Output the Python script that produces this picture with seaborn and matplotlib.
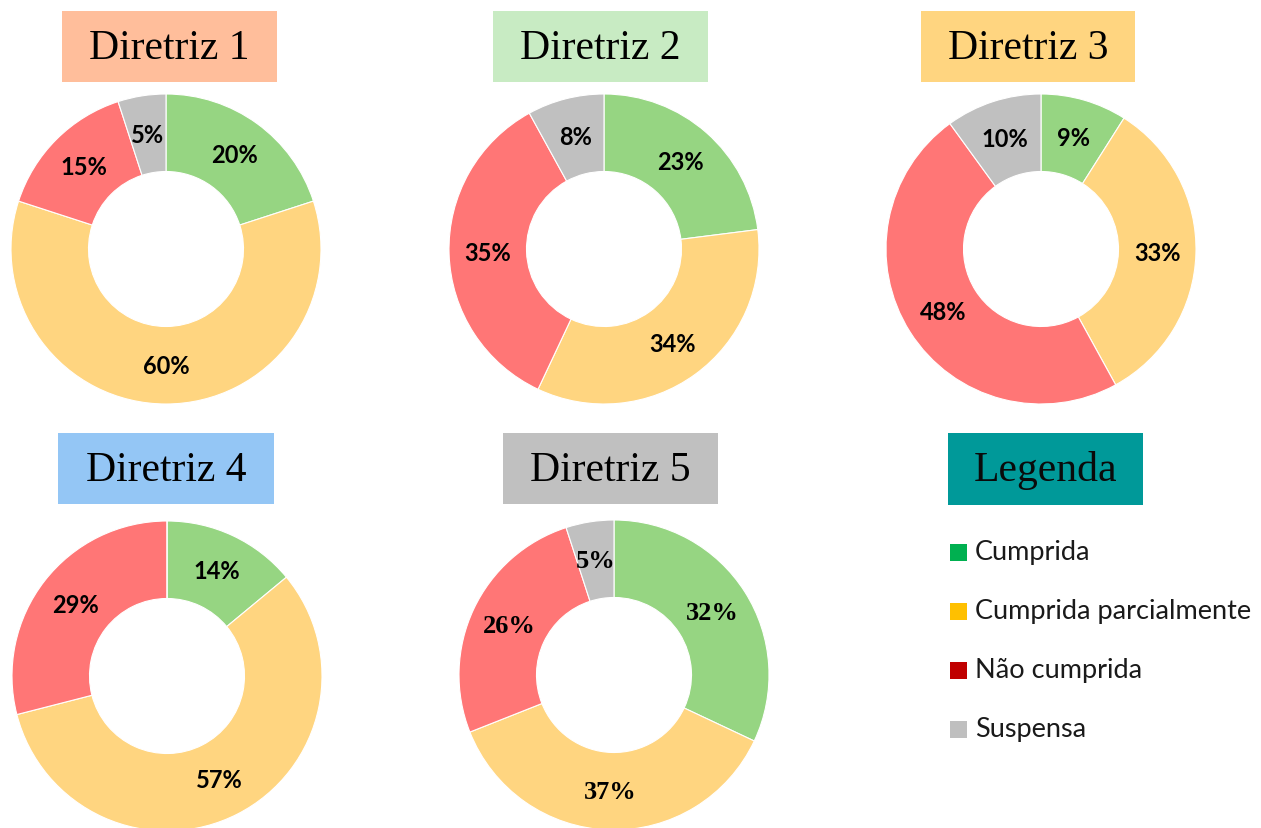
import matplotlib
matplotlib.use("Agg")
import matplotlib.pyplot as plt
import seaborn as sns
from matplotlib.patches import Rectangle

# ---------------- data ----------------
categories = ["Cumprida", "Cumprida parcialmente", "Não cumprida", "Suspensa"]
titles = ["Diretriz 1", "Diretriz 2", "Diretriz 3", "Diretriz 4", "Diretriz 5"]
diretriz1 = [20, 60, 15, 5]
diretriz2 = [23, 34, 35, 8]
diretriz3 = [9, 33, 48, 10]
diretriz4 = [14, 57, 29, 0]
diretriz5 = [32, 37, 26, 5]
legend_title = "Legenda"

# ---------------- styles ----------------
sns.set_theme(style="white")
wedge_colors = sns.color_palette(["#96D582", "#FFD580", "#FF7676", "#C0C0C0"])
legend_colors = sns.color_palette(["#00B050", "#FFC000", "#C00000", "#BFBFBF"])
title_colors = ["#FFBE9B", "#C8EBC3", "#FFD580", "#94C6F5", "#C0C0C0"]

W, H = 1261, 829
fig = plt.figure(figsize=(W / 100, H / 100), dpi=100)
fig.patch.set_facecolor("white")

R = 155
centers = [(166, 250), (604, 250), (1041, 250), (167, 677), (614, 676)]
title_boxes = [(62, 12, 277, 83), (493, 12, 708, 83), (921, 12, 1135, 83),
               (58, 434, 274, 505), (503, 434, 718, 505)]

all_values = [diretriz1, diretriz2, diretriz3, diretriz4, diretriz5]


def add_box(x0, y0, x1, y1, color):
    fig.patches.append(Rectangle((x0 / W, 1 - y1 / H), (x1 - x0) / W, (y1 - y0) / H,
                                 transform=fig.transFigure, facecolor=color,
                                 edgecolor="none", zorder=0))


for i, (vals, (cx, cy)) in enumerate(zip(all_values, centers)):
    ax = fig.add_axes([(cx - R) / W, (H - (cy + R)) / H, 2 * R / W, 2 * R / H])
    if i == 4:
        tp = dict(family=["Liberation Serif"], fontsize=19, fontweight="bold", color="black")
    else:
        tp = dict(family=["Lato", "DejaVu Sans"], fontsize=17, fontweight="bold", color="black")
    ax.pie(vals, colors=wedge_colors, startangle=90, counterclock=False, radius=1,
           wedgeprops=dict(width=0.5, edgecolor="white", linewidth=0.8),
           autopct=lambda p: f"{p:.0f}%" if p > 0.5 else "",
           pctdistance=0.75, textprops=tp)
    ax.set_xlim(-1, 1)
    ax.set_ylim(-1, 1)
    ax.set_aspect("equal")
    ax.axis("off")

    x0, y0, x1, y1 = title_boxes[i]
    add_box(x0, y0, x1, y1, title_colors[i])
    fig.text((x0 + x1) / 2 / W, 1 - ((y0 + y1) / 2 + 1) / H, titles[i],
             ha="center", va="center", family=["Liberation Serif"], fontsize=30,
             color="black")

# Legend panel
add_box(948, 434, 1143, 506, "#009999")
fig.text((948 + 1143) / 2 / W, 1 - 471 / H, legend_title, ha="center", va="center",
         family=["Liberation Serif"], fontsize=30, color="#0a0a0a")

row_y = [553, 612, 671, 730]
for cat, col, ry in zip(categories, legend_colors, row_y):
    add_box(950, ry - 8.5, 967, ry + 8.5, col)
    fig.text(975 / W, 1 - ry / H, cat, ha="left", va="center",
             family=["Lato", "DejaVu Sans"], fontsize=19.5, color="#1a1a1a")

fig.savefig("out.png", dpi=100, facecolor="white")
